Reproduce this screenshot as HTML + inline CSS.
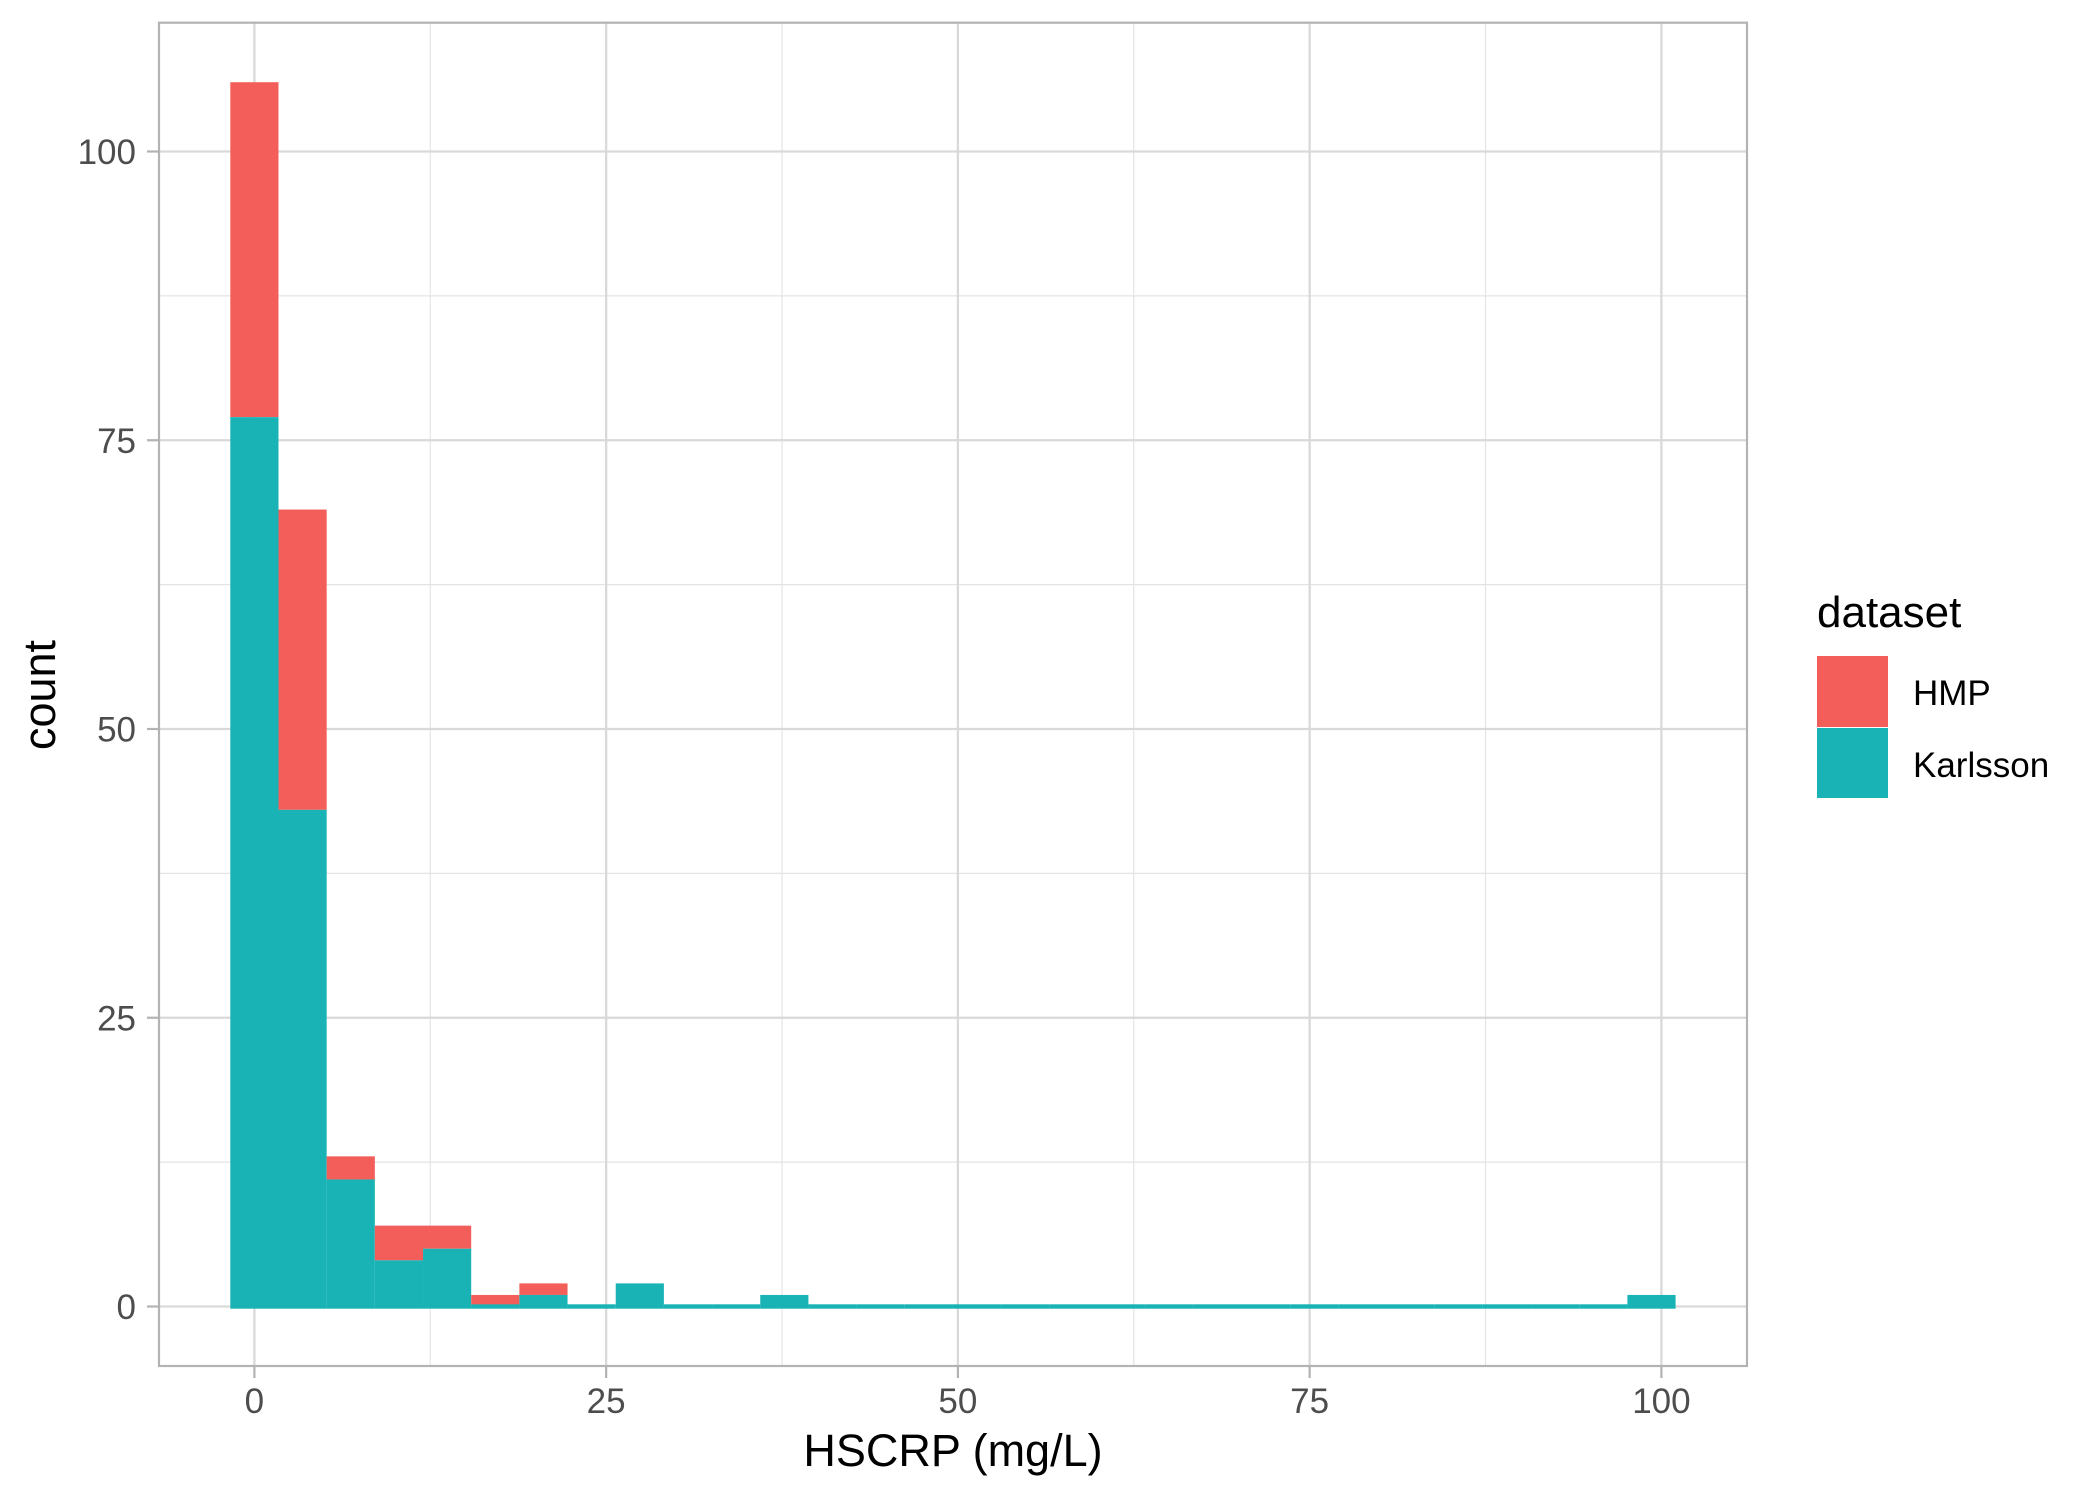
<!DOCTYPE html>
<html><head><meta charset="utf-8"><style>
html,body{margin:0;padding:0;background:#fff}
svg{display:block;font-family:"Liberation Sans",Arial,sans-serif}
</style></head><body>
<svg id="chart" width="2099" height="1499" viewBox="0 0 2099 1499">
<rect x="0" y="0" width="2099" height="1499" fill="#fff"/>
<g id="grid"></g>
<g id="bars"></g>
<rect x="159" y="22.7" width="1588" height="1343.3" fill="none" stroke="#b3b3b3" stroke-width="2.2"/>
<g id="axes"></g>
<text x="953" y="1466" font-size="45" text-anchor="middle" fill="#000">HSCRP (mg/L)</text>
<text transform="translate(55,695) rotate(-90)" font-size="45" text-anchor="middle" fill="#000">count</text>
<g>
<text x="1817" y="627" font-size="44" fill="#000">dataset</text>
<g>
<rect x="1817" y="656" width="71" height="71" fill="#F35E5A"/>
<text x="1913" y="705" font-size="35" fill="#000">HMP</text>
</g>
<g>
<rect x="1817" y="728" width="71" height="70" fill="#19B3B6"/>
<text x="1913" y="777" font-size="35" fill="#000">Karlsson</text>
</g>
</g>
</svg>
<script>
const binStart = 0.0;
const binWidth = 3.424;
const hmpCounts = [29,26,2,3,2,1,1,0,0,0,0,0,0,0,0,0,0,0,0,0,0,0,0,0,0,0,0,0,0,0];
const karlssonCounts = [77,43,11,4,5,0,1,0,2,0,0,1,0,0,0,0,0,0,0,0,0,0,0,0,0,0,0,0,0,1];
const xTicks = [0,25,50,75,100];
const xMinor = [12.5,37.5,62.5,87.5];
const yTicks = [0,25,50,75,100];
const yMinor = [12.5,37.5,62.5,87.5];
const xTickLabels = ["0","25","50","75","100"];
const yTickLabels = ["0","25","50","75","100"];

const NS="http://www.w3.org/2000/svg";
const X0=254.4, XS=14.07, Y0=1306.5, YS=11.55;
const PL=159, PR=1747, PT=22.7, PB=1366;
function sx(v){return X0+v*XS;}
function sy(v){return Y0-v*YS;}
function mk(tag,attrs,parent){const e=document.createElementNS(NS,tag);for(const k in attrs)e.setAttribute(k,attrs[k]);parent.appendChild(e);return e;}
const grid=document.getElementById('grid');
const bars=document.getElementById('bars');
const axes=document.getElementById('axes');

xMinor.forEach(v=>{
  const l=mk('line',{x1:sx(v),x2:sx(v),y1:PT,y2:PB,stroke:'#e4e4e4','stroke-width':1.2},grid);
  
  
});
yMinor.forEach(v=>{
  const l=mk('line',{x1:PL,x2:PR,y1:sy(v),y2:sy(v),stroke:'#e4e4e4','stroke-width':1.2},grid);
  
  
});
xTicks.forEach((v,i)=>{
  const l=mk('line',{x1:sx(v),x2:sx(v),y1:PT,y2:PB,stroke:'#d9d9d9','stroke-width':2.3},grid);
  
  
  const t=mk('line',{x1:sx(v),x2:sx(v),y1:PB,y2:PB+12,stroke:'#b3b3b3','stroke-width':2.2},axes);
  
  
  const tx=mk('text',{x:sx(v),y:1413,'font-size':35,'text-anchor':'middle',fill:'#4d4d4d'},axes);
  tx.textContent=xTickLabels[i];
  
  
});
yTicks.forEach((v,i)=>{
  const l=mk('line',{x1:PL,x2:PR,y1:sy(v),y2:sy(v),stroke:'#d9d9d9','stroke-width':2.3},grid);
  
  
  const t=mk('line',{x1:PL-12,x2:PL,y1:sy(v),y2:sy(v),stroke:'#b3b3b3','stroke-width':2.2},axes);
  
  
  const tx=mk('text',{x:136,y:sy(v)+12.5,'font-size':35,'text-anchor':'end',fill:'#4d4d4d'},axes);
  tx.textContent=yTickLabels[i];
  
  
});
karlssonCounts.forEach((k,i)=>{
  const c=binStart+i*binWidth;
  const xl=sx(c-binWidth/2), w=binWidth*XS;
  const h=hmpCounts[i];
  if(h>0){
    const r=mk('rect',{x:xl,y:sy(k+h),width:w,height:sy(k)-sy(k+h),fill:'#F35E5A'},bars);
    
    
  }
  const top=Math.min(sy(k),Y0-2.2);
  const r2=mk('rect',{x:xl,y:top,width:w,height:(Y0+2.2)-top,fill:'#19B3B6'},bars);
  
  
});
</script>
</body></html>
